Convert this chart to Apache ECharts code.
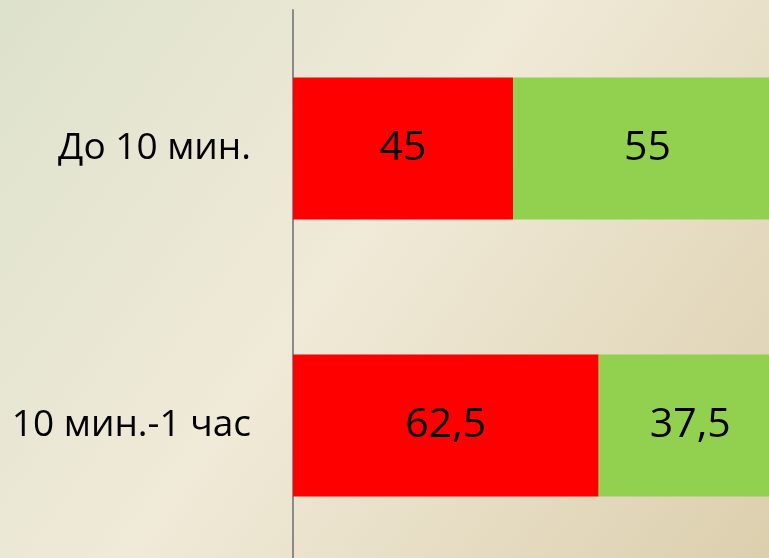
<!DOCTYPE html>
<html>
<head>
<meta charset="utf-8">
<script src="https://cdn.jsdelivr.net/npm/echarts@6/dist/echarts.min.js"></script>
<style>
  html, body { margin: 0; padding: 0; }
  #chart { width: 769px; height: 558px; }
</style>
</head>
<body>
<div id="chart"></div>
<script>
// Categories (top to bottom) and the two stacked shares per category
const categories = ['До 10 мин.', '10 мин.-1 час'];
const redValues = [45, 62.5];
const greenValues = [55, 37.5];

const fmt = p => String(p.value).replace('.', ',');

const chart = echarts.init(document.getElementById('chart'));
chart.setOption({
  backgroundColor: {
    type: 'linear', x: 0, y: 0, x2: 1, y2: 1,
    colorStops: [
      { offset: 0, color: '#dde2cc' },
      { offset: 0.45, color: '#f0ead8' },
      { offset: 1, color: '#dccfae' }
    ]
  },
  animation: false,
  // the plot runs a little past the right and bottom edges of the canvas
  grid: {
    left: 293, top: 10, width: 489, height: 554,
    containLabel: false, outerBoundsMode: 'none'
  },
  xAxis: {
    type: 'value', min: 0, max: 100,
    show: false
  },
  yAxis: {
    type: 'category',
    data: categories,
    inverse: true,
    axisLine: { show: true, lineStyle: { color: '#8a8a8a', width: 2 } },
    axisTick: { show: false },
    axisLabel: {
      margin: 42,
      fontFamily: 'Open Sans',
      fontSize: 37,
      color: '#000'
    }
  },
  series: [
    {
      type: 'bar', stack: 'total', data: redValues,
      barWidth: 142,
      itemStyle: { color: '#ff0000' },
      label: { show: true, position: 'inside', formatter: fmt,
               fontFamily: 'Open Sans', fontSize: 41, color: '#000' }
    },
    {
      type: 'bar', stack: 'total', data: greenValues,
      barWidth: 142,
      itemStyle: { color: '#92d050' },
      label: { show: true, position: 'inside', formatter: fmt,
               fontFamily: 'Open Sans', fontSize: 41, color: '#000' }
    }
  ]
});
</script>
</body>
</html>
